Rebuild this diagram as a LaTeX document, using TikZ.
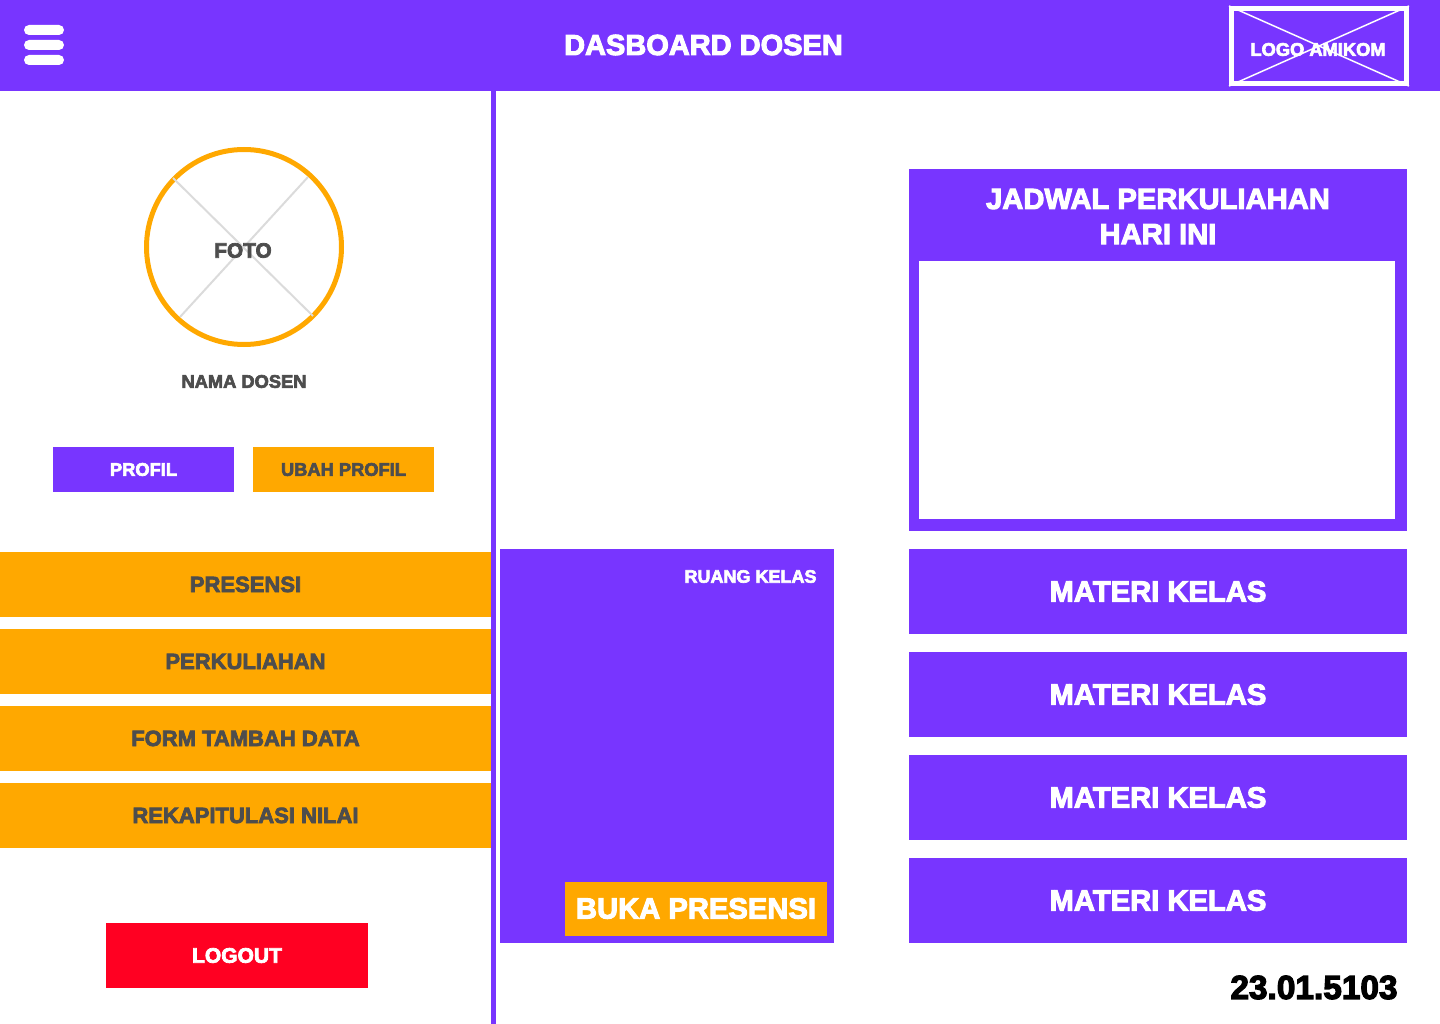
\documentclass[tikz,border=0pt]{standalone}
\usepackage{fontspec}
\usepackage{xcolor}
\setmainfont{Liberation Sans}[BoldFeatures={FakeBold=3.5}]
\definecolor{ungu}{HTML}{7835FF}
\definecolor{oranye}{HTML}{FFA800}
\definecolor{merah}{HTML}{FF0022}
\definecolor{abu}{HTML}{4D4D4D}
\newcommand{\fs}[1]{\fontsize{#1}{#1}\selectfont\bfseries}
\tikzset{
    box/.style={draw=none, inner sep=0pt, align=center},
    purplebox/.style={box, fill=ungu, text=white},
    orangebox/.style={box, fill=oranye, text=abu},
    menubox/.style={orangebox, minimum width=491pt, minimum height=65pt, text height=15pt, text depth=0pt, font=\fs{22}},
    materibox/.style={purplebox, minimum width=498pt, minimum height=85pt, font=\fs{29.2}},
    burgerbar/.style={box, fill=white, rounded corners=5pt, minimum width=40pt, minimum height=10pt},
    crossline/.style={line width=2pt, draw=black!14}
}
\begin{document}
\begin{tikzpicture}[x=1pt, y=-1pt]
    \useasboundingbox (0,0) rectangle (1440,1024);

    % Header
    \node[purplebox, minimum width=1440pt, minimum height=91pt] (header) at (720,45.5) {};
    \foreach \y/\n in {30/1, 45/2, 60/3}
        \node[burgerbar] (bar\n) at (44,\y) {};
    \node[box, text=white, font=\fs{29}] (title) at (703.5,45) {DASBOARD DOSEN};
    \node[box, draw=white, line width=5pt, minimum width=175pt, minimum height=75pt] (logo) at (1319,46) {};
    \draw[white, line width=1.5pt] (logo.north west) -- (logo.south east);
    \draw[white, line width=1.5pt] (logo.north east) -- (logo.south west);
    \node[box, text=white, font=\fs{18.3}] (logotext) at (1318,49.5) {LOGO AMIKOM};

    % Divider
    \node[purplebox, minimum width=5pt, minimum height=933pt] (divider) at (493.5,557.5) {};

    % Photo
    \node[box, circle, draw=oranye, line width=5pt, minimum size=195pt] (foto) at (244,247) {};
    \coordinate (f1) at (173,178);
    \coordinate (f2) at (313,316);
    \coordinate (f3) at (308,177);
    \coordinate (f4) at (180,317);
    \draw[crossline] (f1) -- (f2);
    \draw[crossline] (f3) -- (f4);
    \node[box, text=abu, font=\fs{20.8}] (fototext) at (243,250.5) {FOTO};
    \node[box, text=abu, font=\fs{18.3}] (nama) at (244,381.5) {NAMA DOSEN};

    % Buttons
    \node[purplebox, minimum width=181pt, minimum height=45pt, font=\fs{18.3}] (profil) at (143.5,469.5) {PROFIL};
    \node[orangebox, minimum width=181pt, minimum height=45pt, font=\fs{18.3}] (ubah) at (343.5,469.5) {UBAH PROFIL};

    % Menu
    \node[menubox] (presensi) at (245.5,584.5) {PRESENSI};
    \node[menubox] (kuliah) at (245.5,661.5) {PERKULIAHAN};
    \node[menubox] (form) at (245.5,738.5) {FORM TAMBAH DATA};
    \node[menubox] (rekap) at (245.5,815.5) {REKAPITULASI NILAI};
    \node[box, fill=merah, text=white, minimum width=262pt, minimum height=65pt, font=\fs{21}] (logout) at (237,955.5) {LOGOUT};

    % Ruang kelas
    \node[purplebox, minimum width=334pt, minimum height=394pt] (ruang) at (667,746) {};
    \node[box, text=white, font=\fs{18}] (ruangtext) at (750.5,576.5) {RUANG KELAS};
    \node[box, fill=oranye, text=white, minimum width=262pt, minimum height=54pt, text height=19pt, text depth=0pt, font=\fs{29.2}] (buka) at (696,909) {BUKA PRESENSI};

    % Jadwal
    \node[purplebox, minimum width=498pt, minimum height=362pt] (jadwal) at (1158,350) {};
    \node[box, text=white, font=\fs{29.2}, align=center] (jadwaltext) at (1158,216.5) {JADWAL PERKULIAHAN\\[6pt]HARI INI};
    \node[box, fill=white, minimum width=476pt, minimum height=258pt] (jadwalisi) at (1157,390) {};

    % Materi
    \node[materibox] (m1) at (1158,591.5) {MATERI KELAS};
    \node[materibox] (m2) at (1158,694.5) {MATERI KELAS};
    \node[materibox] (m3) at (1158,797.5) {MATERI KELAS};
    \node[materibox] (m4) at (1158,900.5) {MATERI KELAS};

    \node[box, text=black, font=\fs{33.4}] (nim) at (1314,987.5) {23.01.5103};
\end{tikzpicture}
\end{document}
